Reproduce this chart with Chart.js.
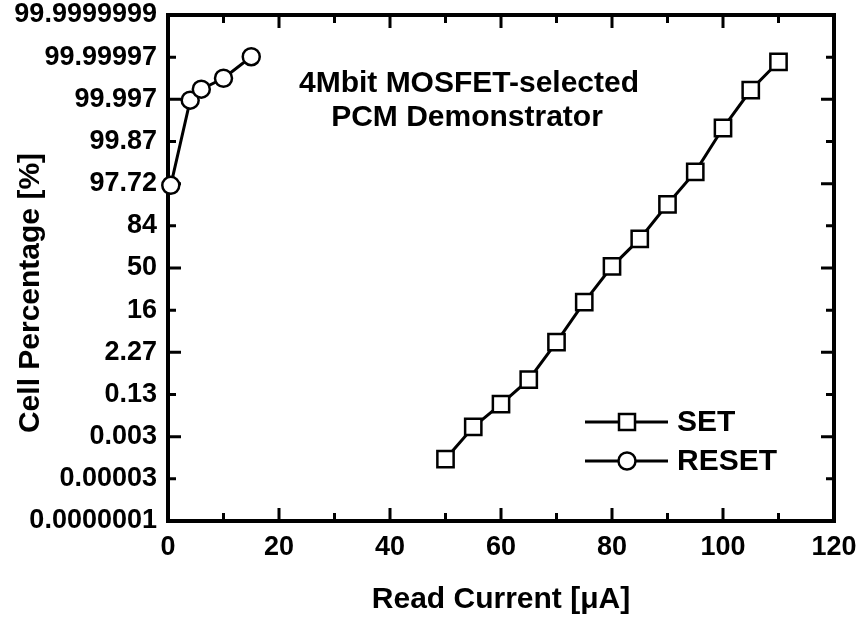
<!DOCTYPE html>
<html>
<head>
<meta charset="utf-8">
<script src="https://cdn.jsdelivr.net/npm/chart.js@4.4.0/dist/chart.umd.min.js"></script>
<style>
  html, body { margin: 0; padding: 0; background: #fff; }
  #wrap { width: 861px; height: 618px; }
</style>
</head>
<body>
<div id="wrap"><canvas id="chart" width="861" height="618"></canvas></div>
<script>
// read current [uA] and cumulative level in sigma units (probability scale)
const setCurrent = [50, 55, 60, 65, 70, 75, 80, 85, 90, 95, 100, 105, 110];
const setSigma = [-4.53, -3.77, -3.23, -2.65, -1.76, -0.81, 0.04, 0.69, 1.51, 2.28, 3.32, 4.22, 4.89];
const resetCurrent = [0.5, 4, 6, 10, 15];
const resetSigma = [1.96, 3.98, 4.24, 4.50, 5.01];

const sigmaTicks = [-6, -5, -4, -3, -2, -1, 0, 1, 2, 3, 4, 5, 6];
const percentLabels = ['0.0000001', '0.00003', '0.003', '0.13', '2.27', '16', '50', '84',
  '97.72', '99.87', '99.997', '99.99997', '99.9999999'];
const currentTicks = [0, 20, 40, 60, 80, 100, 120];

const FONT = '"Liberation Sans", Arial, Helvetica, sans-serif';
const tickFont = { family: FONT, size: 27, weight: 'bold', lineHeight: 1 };
const titleFont = { family: FONT, size: 30, weight: 'bold' };

function toPoints(xs, ys) {
  return xs.map((x, i) => ({ x, y: ys[i] }));
}

// frame + inward ticks like the original plot
const framePlugin = {
  id: 'frame',
  beforeDatasetsDraw(chart) {
    const { ctx, chartArea: a, scales: { x, y } } = chart;
    ctx.save();
    ctx.strokeStyle = '#000';
    ctx.lineWidth = 3;
    for (let v = 10; v < 120; v += 10) {
      const px = x.getPixelForValue(v);
      const len = v % 20 === 0 ? 13 : 8;
      ctx.beginPath();
      ctx.moveTo(px, a.bottom); ctx.lineTo(px, a.bottom - len);
      ctx.moveTo(px, a.top); ctx.lineTo(px, a.top + len);
      ctx.stroke();
    }
    sigmaTicks.slice(1, -1).forEach(s => {
      const py = y.getPixelForValue(s);
      const len = s % 2 === 0 ? 13 : 8;
      ctx.beginPath();
      ctx.moveTo(a.left, py); ctx.lineTo(a.left + len, py);
      ctx.moveTo(a.right, py); ctx.lineTo(a.right - len, py);
      ctx.stroke();
    });
    ctx.lineWidth = 4;
    ctx.strokeRect(a.left, a.top, a.right - a.left, a.bottom - a.top);
    ctx.restore();
  },
  afterDraw(chart) {
    const { ctx } = chart;
    ctx.save();
    ctx.fillStyle = '#000';
    ctx.font = `bold 30px ${FONT}`;
    ctx.textAlign = 'center';
    ctx.textBaseline = 'middle';
    ctx.fillText('4Mbit MOSFET-selected', 469, 84);
    ctx.fillText('PCM Demonstrator', 467, 118);

    // legend
    const rows = [
      { label: 'SET', style: 'rect', y: 422 },
      { label: 'RESET', style: 'circle', y: 461 }
    ];
    rows.forEach(r => {
      ctx.lineWidth = 3;
      ctx.strokeStyle = '#000';
      ctx.beginPath();
      ctx.moveTo(585, r.y); ctx.lineTo(668, r.y);
      ctx.stroke();
      ctx.lineWidth = 2.5;
      ctx.fillStyle = '#fff';
      ctx.beginPath();
      if (r.style === 'rect') ctx.rect(627 - 8, r.y - 8, 16, 16);
      else ctx.arc(627, r.y, 8.5, 0, Math.PI * 2);
      ctx.fill();
      ctx.stroke();
      ctx.fillStyle = '#000';
      ctx.textAlign = 'left';
      ctx.fillText(r.label, 677, r.y + 1);
    });
    ctx.restore();
  }
};

new Chart(document.getElementById('chart'), {
  type: 'line',
  data: {
    datasets: [
      {
        label: 'SET',
        data: toPoints(setCurrent, setSigma),
        borderColor: '#000',
        borderWidth: 3,
        pointStyle: 'rect',
        pointRadius: 11.5,
        pointBorderWidth: 2.5,
        pointBackgroundColor: '#fff',
        pointBorderColor: '#000',
        clip: false
      },
      {
        label: 'RESET',
        data: toPoints(resetCurrent, resetSigma),
        borderColor: '#000',
        borderWidth: 3,
        pointStyle: 'circle',
        pointRadius: 8.5,
        pointBorderWidth: 2.5,
        pointBackgroundColor: '#fff',
        pointBorderColor: '#000',
        clip: false
      }
    ]
  },
  options: {
    responsive: false,
    animation: false,
    layout: { padding: { top: 15, right: 27, left: 0, bottom: 0 } },
    plugins: {
      legend: { display: false },
      tooltip: { enabled: false }
    },
    scales: {
      x: {
        type: 'linear',
        min: 0,
        max: 120,
        afterBuildTicks: s => { s.ticks = currentTicks.map(v => ({ value: v })); },
        afterFit: s => { s.height = 97; s.paddingLeft = 0; s.paddingRight = 0; },
        grid: { display: false, drawTicks: false },
        border: { display: false },
        ticks: { color: '#000', font: tickFont, padding: 13, maxRotation: 0 },
        title: {
          display: true,
          text: 'Read Current [μA]',
          color: '#000',
          font: titleFont,
          padding: { top: 0, bottom: 0 }
        }
      },
      y: {
        type: 'linear',
        min: -6,
        max: 6,
        afterBuildTicks: s => { s.ticks = sigmaTicks.map(v => ({ value: v })); },
        afterFit: s => { s.width = 168; s.paddingTop = 0; s.paddingBottom = 0; },
        grid: { display: false, drawTicks: false },
        border: { display: false },
        ticks: {
          color: '#000',
          font: tickFont,
          padding: 11,
          callback: (v, i) => percentLabels[i]
        },
        title: {
          display: true,
          text: 'Cell Percentage [%]      ',
          color: '#000',
          font: titleFont,
          padding: { top: 13, bottom: 0 }
        }
      }
    }
  },
  plugins: [framePlugin]
});
</script>
</body>
</html>
